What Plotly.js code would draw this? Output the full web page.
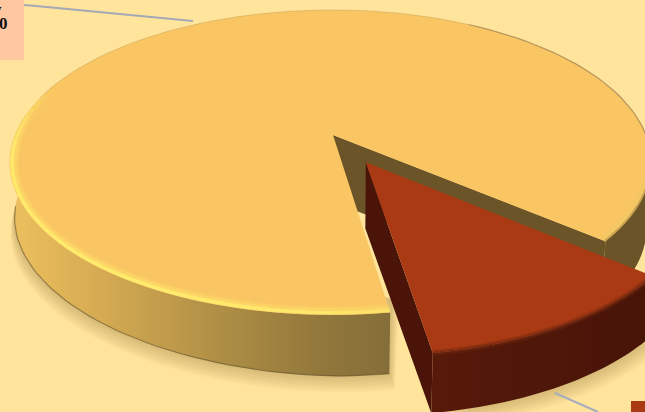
<!DOCTYPE html>
<html>
<head>
<meta charset="utf-8">
<script src="https://cdn.plot.ly/plotly-3.0.1.min.js"></script>
<style>html,body{margin:0;padding:0;background:#FFE49C;overflow:hidden}#chart{width:645px;height:412px}</style>
</head>
<body>
<div id="chart"></div>
<script>
// Slice shares, in percent
const categories = ['Remainder', 'Highlighted'];
const shares = [88.4, 11.6];
const sliceColors = ['#FAC663', '#A93A14'];
const boxTexts = ['y', '0'];

// Camera model of the tilted disc: perspective centre, radii and wall depth
const cx = 333, cy = 135, A = 313, AL = 318, B = 147.5, k = 0.18;
const wallH = 67, wallTaper = 11, lowSX = 0.985, lowSY = 0.968;
const explode = 0.206;

const smallDeg = shares[1] / (shares[0] + shares[1]) * 360;
const cutRight = -39.6, cutLeft = cutRight - smallDeg;
const midDeg = (cutRight + cutLeft) / 2;
const rad = d => d * Math.PI / 180;

// Project a disc point (X, Y in disc radii) on the top or bottom face
function proj(X, Y, low) {
  const w = 1 + k * Y;
  const dx = (X < 0 ? AL : A) * X / w, dy = -B * Y / w;
  if (!low) return [cx + dx, cy + dy];
  const h = wallH - (X < 0 ? wallTaper * -X : 0);
  return [cx + dx * lowSX, cy + h + dy * lowSY];
}
function arc(a0, a1, low, ox = 0, oy = 0, n = 90) {
  const pts = [];
  for (let i = 0; i <= n; i++) {
    const t = rad(a0 + (a1 - a0) * i / n);
    pts.push(proj(Math.cos(t) + ox, Math.sin(t) + oy, low));
  }
  return pts;
}
// Pull a rim path towards the middle of the disc by a few units
function inset(pts, d) {
  return pts.map(p => {
    const vx = cx - p[0], vy = (cy + 27) - p[1], m = Math.hypot(vx, vy * 2) || 1;
    return [p[0] + vx / m * d, p[1] + vy * 2 / m * d];
  });
}
const xs = p => p.map(q => q[0]);
const ys = p => p.map(q => q[1]);
const fillTrace = (pts, fill) => Object.assign({
  x: xs(pts.concat([pts[0]])), y: ys(pts.concat([pts[0]])), mode: 'none', fill: 'toself',
  hoverinfo: 'skip', showlegend: false, type: 'scatter'
}, fill);
const lineTrace = (pts, color, width) => ({
  x: xs(pts), y: ys(pts), mode: 'lines', line: {color, width, shape: 'linear'},
  hoverinfo: 'skip', showlegend: false, type: 'scatter'
});
const hGrad = stops => ({fillgradient: {type: 'horizontal', colorscale: stops}});

const traces = [];

// Big slice runs from the right cut, round the back, to the left cut
const bigA0 = cutRight, bigA1 = cutLeft + 360;
const ox = explode * Math.cos(rad(midDeg)), oy = explode * Math.sin(rad(midDeg));

// Soft cast shadows under the disc and the pulled-out wedge
for (let s = 16; s >= 2; s -= 2) {
  const a = 0.035;
  const low = arc(178, bigA1, true, 0, 0, 70).map(p => [p[0] - s * 0.25 + (p[0] > 300 ? s * 0.6 : 0), p[1] + s]);
  traces.push(fillTrace(low.concat([[391 + s * 0.5, 300]]), {fillcolor: `rgba(120,90,30,${a})`}));
  const wedgeLow = arc(cutLeft, cutRight, true, ox, oy, 40).map(p => [p[0] + s * 0.5, p[1] + s * 0.9]);
  traces.push(fillTrace(wedgeLow.concat([[660, 300]]), {fillcolor: `rgba(120,90,30,${a})`}));
}

// Walls of the big slice: back-right section, the cut face, and the front
const cr = rad(cutRight);
const rightWall = arc(cutRight, -10, false, 0, 0, 30).concat(arc(-10, cutRight, true, 0, 0, 30));
traces.push(fillTrace(rightWall, {fillcolor: '#6B5428'}));
const cutFace = [proj(0, 0), proj(Math.cos(cr), Math.sin(cr)), proj(Math.cos(cr), Math.sin(cr), true), proj(0, 0, true)];
traces.push(fillTrace(cutFace, {fillcolor: '#6B5428'}));
const frontWall = arc(172, bigA1, false, 0, 0, 70).concat(arc(bigA1, 172, true, 0, 0, 70));
traces.push(fillTrace(frontWall, hGrad([[0, '#EDC05E'], [0.25, '#D4AA52'], [0.55, '#AF8F45'], [0.8, '#94793C'], [1, '#846D38']])));

// Thin outline where the wall meets its shadow
traces.push(lineTrace(arc(186, bigA1, true, 0, 0, 60), 'rgba(90,75,40,0.55)', 1.2));

// Top face of the big slice, with a fine edge along the back
const bigTop = [proj(0, 0)].concat(arc(bigA0, bigA1, false, 0, 0, 240));
traces.push(fillTrace(bigTop, {fillcolor: sliceColors[0]}));
traces.push(lineTrace(arc(60, 165, false, 0, 0, 50), 'rgba(205,165,95,0.55)', 1));
traces.push(lineTrace(arc(-10, 60, false, 0, 0, 30), 'rgba(165,135,85,0.8)', 1.2));

// Bevel along the front rim: short runs whose strength eases in and out along the arc
const rimKeys = [[160, 0], [172, 0.45], [185, 0.95], [240, 1], [265, 0.9], [bigA1, 0.65]];
function rimStrength(a) {
  for (let i = 1; i < rimKeys.length; i++) {
    if (a <= rimKeys[i][0]) {
      const [a0, v0] = rimKeys[i - 1], [a1, v1] = rimKeys[i];
      return v0 + (v1 - v0) * (a - a0) / (a1 - a0);
    }
  }
  return rimKeys[rimKeys.length - 1][1];
}
const rimRuns = 40;
for (let i = 0; i < rimRuns; i++) {
  const a = 160 + (bigA1 - 160) * i / rimRuns, b = 160 + (bigA1 - 160) * (i + 1) / rimRuns;
  const o = rimStrength((a + b) / 2), seg = arc(a, b, false, 0, 0, 4);
  traces.push(lineTrace(inset(seg, 4.5), `rgba(255,232,106,${(0.22 * o).toFixed(3)})`, 8));
  traces.push(lineTrace(inset(seg, 3.5), `rgba(255,234,106,${(0.35 * o).toFixed(3)})`, 6));
  traces.push(lineTrace(inset(seg, 2.2), `rgba(255,238,110,${(0.85 * o).toFixed(3)})`, 3.4));
}
const rightRim = arc(cutRight, -17, false, 0, 0, 30);
traces.push(lineTrace(inset(rightRim, 3), 'rgba(236,200,100,0.45)', 6));
traces.push(lineTrace(inset(rightRim, 0.5), 'rgba(170,135,66,0.6)', 2));

// Pulled-out wedge: inner left wall, outer wall, then top face
const cl = rad(cutLeft);
const inLeft = [proj(ox, oy), proj(Math.cos(cl) + ox, Math.sin(cl) + oy), proj(Math.cos(cl) + ox, Math.sin(cl) + oy, true), proj(ox, oy, true)];
traces.push(fillTrace(inLeft, {fillcolor: '#4A1408'}));
const outer = arc(cutLeft, cutRight, false, ox, oy, 40).concat(arc(cutRight, cutLeft, true, ox, oy, 40));
traces.push(fillTrace(outer, hGrad([[0, '#57190A'], [0.5, '#4E1709'], [1, '#471408']])));
const redTop = [proj(ox, oy)].concat(arc(cutLeft, cutRight, false, ox, oy, 60));
traces.push(fillTrace(redTop, {fillcolor: sliceColors[1]}));
const redRim = arc(cutLeft, cutRight, false, ox, oy, 40);
traces.push(lineTrace(redRim, 'rgba(122,42,16,0.35)', 6));
traces.push(lineTrace(redRim, 'rgba(100,32,12,0.5)', 3));

// Leader lines running to the labels
traces.push(lineTrace([[24, 5], [36, 6], [193, 21]], '#A3A9B5', 2));
traces.push(lineTrace([[555, 393], [598, 412]], '#A5ADBC', 2));

// Label box text sits against the left edge of the frame
const textSpots = [[4, 9, 'right'], [3, 23.5, 'center']];
const layout = {
  width: 645, height: 412,
  margin: {l: 0, r: 0, t: 0, b: 0},
  paper_bgcolor: '#FFE49C', plot_bgcolor: '#FFE49C',
  showlegend: false,
  xaxis: {range: [0, 645], visible: false, fixedrange: true},
  yaxis: {range: [412, 0], visible: false, fixedrange: true},
  shapes: [
    {type: 'rect', x0: 0, x1: 24, y0: 0, y1: 60, fillcolor: '#FFC8A0', line: {width: 0}, layer: 'above'},
    {type: 'rect', x0: 631, x1: 645, y0: 401, y1: 412, fillcolor: sliceColors[1], line: {width: 0}, layer: 'above'}
  ],
  annotations: boxTexts.map((t, i) => ({
    x: textSpots[i][0], y: textSpots[i][1], xref: 'x', yref: 'y', text: '<b>' + t + '</b>', showarrow: false,
    xanchor: textSpots[i][2], yanchor: 'middle',
    font: {family: 'Liberation Serif, serif', size: 17, color: '#111'}
  }))
};
Plotly.newPlot('chart', traces, layout, {displayModeBar: false, staticPlot: true});
</script>
</body>
</html>
